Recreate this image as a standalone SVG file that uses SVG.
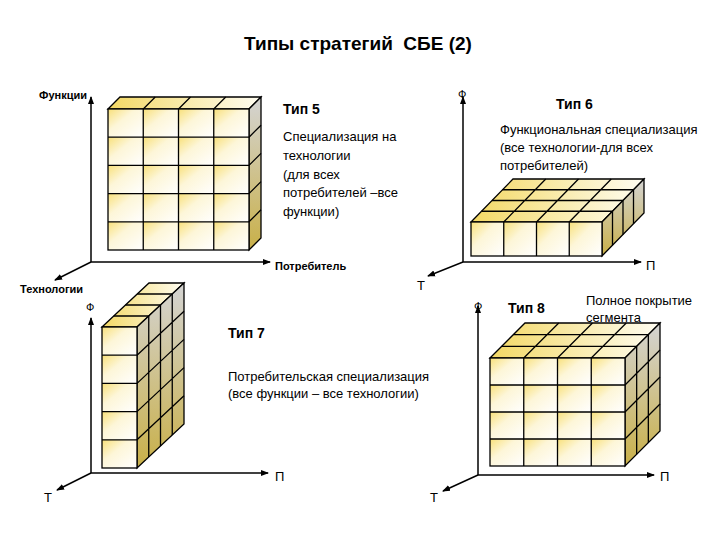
<svg xmlns="http://www.w3.org/2000/svg" width="720" height="540" viewBox="0 0 720 540">
<style>
text{font-family:"Liberation Sans",Arial,sans-serif;fill:#000}
.t{font-size:13px}
.b{font-weight:bold;font-size:14px}
.s{font-size:11px}
.ax{stroke:#000;stroke-width:1.5;fill:none;marker-end:url(#ar)}
.g{stroke:#000;stroke-width:1.3;fill:none}
.top{fill:url(#gt);stroke:#000;stroke-width:1.3}
.side{fill:url(#gs);stroke:#000;stroke-width:1.3}
</style>
<defs>
<marker id="ar" markerWidth="8" markerHeight="8" refX="7" refY="4" orient="auto" markerUnits="userSpaceOnUse"><path d="M0,1 L8,4 L0,7Z" fill="#000"/></marker>
<linearGradient id="gf" x1="0" y1="0" x2="1" y2="1"><stop offset="0" stop-color="#f8e07a"/><stop offset="0.4" stop-color="#fdf6d8"/><stop offset="1" stop-color="#ffffff"/></linearGradient>
<linearGradient id="gt" x1="0" y1="0" x2="1" y2="0"><stop offset="0" stop-color="#f3d864"/><stop offset="1" stop-color="#fffdf2"/></linearGradient>
<linearGradient id="gs" x1="0" y1="0" x2="0" y2="1"><stop offset="0" stop-color="#d4d4d4"/><stop offset="1" stop-color="#c9b048"/></linearGradient>
<pattern id="p1" patternUnits="userSpaceOnUse" x="108" y="109" width="35.25" height="28.2"><rect width="35.25" height="28.2" fill="url(#gf)"/></pattern>
<pattern id="p2" patternUnits="userSpaceOnUse" x="471" y="222" width="32.75" height="34"><rect width="32.75" height="34" fill="url(#gf)"/></pattern>
<pattern id="p3" patternUnits="userSpaceOnUse" x="102" y="327" width="35" height="28.2"><rect width="35" height="28.2" fill="url(#gf)"/></pattern>
<pattern id="p4" patternUnits="userSpaceOnUse" x="490" y="358" width="33.75" height="27"><rect width="33.75" height="27" fill="url(#gf)"/></pattern>
</defs>
<rect width="720" height="540" fill="#fff"/>
<text x="358" y="50" text-anchor="middle" style="font-size:19px;font-weight:bold;white-space:pre">Типы стратегий  СБЕ (2)</text>

<g id="connectors">
<path class="ax" d="M91,262 V97"/><path class="ax" d="M91,262 H270"/><path class="ax" d="M91,262 L55,280"/>
<path class="ax" d="M463,262 V97"/><path class="ax" d="M463,262 H641"/><path class="ax" d="M463,262 L428,276"/>
<path class="ax" d="M91,473 V318"/><path class="ax" d="M91,473 H268"/><path class="ax" d="M91,473 L57,490"/>
<path class="ax" d="M478,475 V306"/><path class="ax" d="M478,475 H654"/><path class="ax" d="M478,475 L443,491"/>
</g>

<g id="cube5">
<polygon class="top" points="108,109 120,97 261,97 249,109"/>
<polygon class="side" points="249,109 261,97 261,238 249,250"/>
<rect x="108" y="109" width="141" height="141" fill="url(#p1)" stroke="#000" stroke-width="1.3"/>
<path class="g" d="M143.25,109V250M178.5,109V250M213.75,109V250M108,137.2H249M108,165.4H249M108,193.6H249M108,221.8H249
M143.25,109l12,-12M178.5,109l12,-12M213.75,109l12,-12
M249,137.2l12,-12M249,165.4l12,-12M249,193.6l12,-12M249,221.8l12,-12"/>
</g>

<g id="cube6">
<polygon class="top" points="471,222 513,179 644,179 602,222"/>
<polygon class="side" points="602,222 644,179 644,213 602,256"/>
<rect x="471" y="222" width="131" height="34" fill="url(#p2)" stroke="#000" stroke-width="1.3"/>
<path class="g" d="M503.75,222V256M536.5,222V256M569.25,222V256
M503.75,222L545.75,179M536.5,222L578.5,179M569.25,222L611.25,179
M481.5,211.25H612.5M492,200.5H623M502.5,189.75H633.5
M612.5,211.25V245.25M623,200.5V234.5M633.5,189.75V223.75"/>
</g>

<g id="cube7">
<polygon class="top" points="102,327 149,283 184,283 137,327"/>
<polygon class="side" points="137,327 184,283 184,424 137,468"/>
<rect x="102" y="327" width="35" height="141" fill="url(#p3)" stroke="#000" stroke-width="1.3"/>
<path class="g" d="M102,355.2H137M102,383.4H137M102,411.6H137M102,439.8H137
M113.75,316H148.75M125.5,305H160.5M137.25,294H172.25
M137,355.2L184,311.2M137,383.4L184,339.4M137,411.6L184,367.6M137,439.8L184,395.8
M148.75,316V457M160.5,305V446M172.25,294V435"/>
</g>

<g id="cube8">
<polygon class="top" points="490,358 525,323 660,323 625,358"/>
<polygon class="side" points="625,358 660,323 660,431 625,466"/>
<rect x="490" y="358" width="135" height="108" fill="url(#p4)" stroke="#000" stroke-width="1.3"/>
<path class="g" d="M523.75,358V466M557.5,358V466M591.25,358V466M490,385H625M490,412H625M490,439H625
M523.75,358L558.75,323M557.5,358L592.5,323M591.25,358L626.25,323
M501.67,346.33H636.67M513.33,334.67H648.33
M625,385L660,350M625,412L660,377M625,439L660,404
M636.67,346.33V454.33M648.33,334.67V442.67"/>
</g>

<g id="labels">
<text x="87" y="99" class="s" text-anchor="end" style="font-weight:bold">Функции</text>
<text x="20" y="293" class="s" style="font-weight:bold">Технологии</text>
<text x="275" y="270" class="s" style="font-weight:bold">Потребитель</text>
<text x="458" y="98" class="s">Ф</text>
<text x="646" y="270" class="t">П</text>
<text x="417" y="290" class="t">Т</text>
<text x="86" y="311" class="s">Ф</text>
<text x="275" y="481" class="t">П</text>
<text x="44" y="502" class="t">Т</text>
<text x="474" y="310" class="s">Ф</text>
<text x="660" y="481" class="t">П</text>
<text x="430" y="502" class="t">Т</text>
</g>

<g id="text5">
<text x="283" y="114" class="b">Тип 5</text>
<text class="t"><tspan x="283" y="141">Специализация на</tspan><tspan x="283" y="160">технологии</tspan><tspan x="283" y="179">(для всех</tspan><tspan x="283" y="197">потребителей –все</tspan><tspan x="283" y="216">функции)</tspan></text>
</g>
<g id="text6">
<text x="556" y="109" class="b">Тип 6</text>
<text class="t"><tspan x="500" y="134">Функциональная специализация</tspan><tspan x="500" y="152">(все технологии-для всех</tspan><tspan x="500" y="170">потребителей)</tspan></text>
</g>
<g id="text7">
<text x="228" y="338" class="b">Тип 7</text>
<text class="t"><tspan x="228" y="381">Потребительская специализация</tspan><tspan x="228" y="398">(все функции – все технологии)</tspan></text>
</g>
<g id="text8">
<text x="508" y="313" class="b">Тип 8</text>
<text class="t"><tspan x="586" y="305">Полное покрытие</tspan><tspan x="586" y="322">сегмента</tspan></text>
</g>
</svg>
